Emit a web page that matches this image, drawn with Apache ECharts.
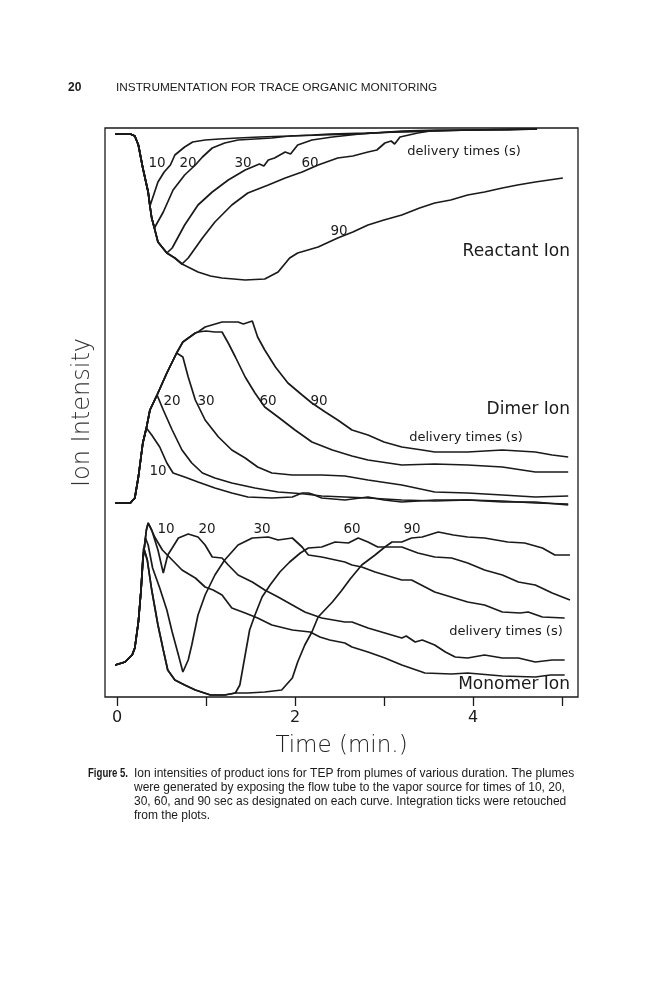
<!DOCTYPE html>
<html>
<head>
<meta charset="utf-8">
<script src="https://cdn.jsdelivr.net/npm/echarts@6.0.0/dist/echarts.min.js"></script>
<style>
  html, body { margin: 0; padding: 0; background: #fff; }
  #chart { width: 666px; height: 1000px; }
</style>
</head>
<body>
<div id="chart"></div>
<script>
// time in minutes, intensity in arbitrary units (each panel 0-190)
var xTicks = [0, 1, 2, 3, 4, 5];
var xTickLabels = [0, 2, 4];
var deliveryTimes = ["10", "20", "30", "60", "90"];

// ---- Reactant ion
var reactant10 = [[-0.02,184],[0.15,184],[0.20,182],[0.24,173],[0.29,150],[0.35,126],[0.37,112],[0.46,136],[0.53,146],[0.60,153],[0.65,163],[0.76,171],[0.85,176],[0.99,178],[1.15,179],[1.36,180],[1.6,181],[1.94,182],[2.2,183],[2.39,184],[2.8,185],[3.18,186],[3.6,187],[3.97,188],[4.4,188],[4.72,189]];
var reactant20 = [[-0.02,184],[0.15,184],[0.20,182],[0.24,173],[0.29,150],[0.35,126],[0.37,112],[0.39,100],[0.42,90],[0.52,106],[0.63,128],[0.76,143],[0.88,153],[0.96,161],[1.07,170],[1.21,175],[1.36,178],[1.55,179],[1.74,180],[1.94,182],[2.3,183],[2.7,184],[3.1,186],[3.5,187],[3.97,188],[4.72,189]];
var reactant30 = [[-0.02,184],[0.15,184],[0.20,182],[0.24,173],[0.29,150],[0.35,126],[0.37,112],[0.39,100],[0.42,90],[0.46,76],[0.56,65],[0.62,70],[0.76,93],[0.91,113],[1.07,126],[1.25,138],[1.44,148],[1.6,154],[1.65,152],[1.7,158],[1.77,160],[1.89,166],[1.95,164],[2.03,173],[2.19,178],[2.42,181],[2.73,184],[3.2,187],[3.6,188],[4.0,188],[4.5,189],[4.72,189]];
var reactant60 = [[-0.02,184],[0.15,184],[0.20,182],[0.24,173],[0.29,150],[0.35,126],[0.37,112],[0.39,100],[0.42,90],[0.46,76],[0.56,65],[0.65,60],[0.73,54],[0.80,60],[0.96,80],[1.10,96],[1.29,113],[1.47,125],[1.70,133],[1.89,140],[2.08,146],[2.26,153],[2.48,160],[2.65,162],[2.82,166],[2.92,168],[3.01,175],[3.08,177],[3.12,174],[3.18,181],[3.38,185],[3.52,187]];
var reactant90 = [[-0.02,184],[0.15,184],[0.20,182],[0.24,173],[0.29,150],[0.35,126],[0.37,112],[0.39,100],[0.42,90],[0.46,76],[0.56,65],[0.65,60],[0.73,54],[0.91,46],[1.05,42],[1.18,40],[1.44,38],[1.66,39],[1.81,46],[1.94,60],[2.03,65],[2.26,71],[2.48,80],[2.65,86],[2.82,93],[3.0,98],[3.20,103],[3.4,110],[3.57,115],[3.75,118],[3.94,123],[4.13,126],[4.33,130],[4.5,133],[4.70,136],[5.01,140]];

// ---- Dimer ion
var dimer10 = [[-0.02,5],[0.15,5],[0.20,10],[0.24,31],[0.29,65],[0.33,80],[0.39,73],[0.48,61],[0.56,45],[0.63,35],[0.76,31],[0.91,26],[1.10,20],[1.29,15],[1.47,11],[1.74,10],[1.97,11],[2.08,15],[2.15,15],[2.19,14],[2.30,10],[2.56,8],[2.82,11],[3.0,8],[3.20,6],[3.57,8],[3.94,8],[4.33,6],[4.70,6],[5.07,3]];
var dimer20 = [[-0.02,5],[0.15,5],[0.20,10],[0.24,31],[0.29,65],[0.33,80],[0.37,98],[0.45,113],[0.52,98],[0.62,78],[0.73,58],[0.84,45],[0.96,35],[1.10,30],[1.29,25],[1.55,20],[1.81,16],[1.97,15],[2.11,14],[2.30,12],[2.56,11],[2.82,10],[3.20,8],[3.57,7],[3.94,8],[4.33,7],[4.70,5],[5.07,4]];
var dimer30 = [[-0.02,5],[0.15,5],[0.20,10],[0.24,31],[0.29,65],[0.33,80],[0.37,98],[0.45,113],[0.56,135],[0.67,155],[0.74,151],[0.80,131],[0.88,108],[0.99,88],[1.14,71],[1.29,58],[1.44,50],[1.58,41],[1.74,35],[1.97,33],[2.30,33],[2.56,32],[2.82,28],[3.20,23],[3.57,16],[3.94,15],[4.33,13],[4.70,11],[5.07,12]];
var dimer60 = [[-0.02,5],[0.15,5],[0.20,10],[0.24,31],[0.29,65],[0.33,80],[0.37,98],[0.45,113],[0.56,135],[0.67,155],[0.74,166],[0.88,175],[0.91,176],[1.0,177],[1.1,176],[1.18,176],[1.25,165],[1.33,151],[1.44,131],[1.55,115],[1.66,101],[1.81,91],[2.0,78],[2.19,66],[2.42,58],[2.64,52],[2.82,48],[3.20,43],[3.57,44],[3.94,43],[4.33,41],[4.70,36],[5.07,36]];
var dimer90 = [[-0.02,5],[0.15,5],[0.20,10],[0.24,31],[0.29,65],[0.33,80],[0.37,98],[0.45,113],[0.56,135],[0.67,155],[0.74,166],[0.88,175],[0.91,176],[0.99,181],[1.18,186],[1.30,186],[1.36,186],[1.42,184],[1.52,187],[1.58,171],[1.66,158],[1.78,141],[1.92,125],[2.08,113],[2.19,105],[2.34,96],[2.48,88],[2.64,78],[2.82,73],[3.0,66],[3.20,61],[3.43,58],[3.57,56],[3.94,56],[4.33,58],[4.70,56],[4.89,53],[5.07,51]];

// ---- Monomer ion
var monomer10 = [[-0.02,32],[0.09,35],[0.17,42],[0.20,49],[0.24,75],[0.27,107],[0.29,137],[0.33,167],[0.35,174],[0.37,172],[0.43,159],[0.51,147],[0.62,137],[0.73,127],[0.88,119],[0.99,110],[1.08,107],[1.18,102],[1.29,89],[1.44,84],[1.58,79],[1.74,72],[1.97,67],[2.17,65],[2.28,60],[2.39,57],[2.56,54],[2.64,50],[2.82,45],[3.01,39],[3.20,32],[3.46,24],[3.76,23],[3.94,24],[4.33,21],[4.70,20],[4.87,22],[5.03,22]];
var monomer20 = [[-0.02,32],[0.09,35],[0.17,42],[0.20,49],[0.24,75],[0.27,107],[0.29,137],[0.33,167],[0.35,174],[0.39,167],[0.46,147],[0.52,124],[0.57,142],[0.62,149],[0.69,159],[0.80,163],[0.91,160],[0.99,152],[1.07,140],[1.18,139],[1.25,132],[1.36,122],[1.52,115],[1.66,107],[1.81,100],[1.97,92],[2.11,85],[2.30,79],[2.56,75],[2.64,75],[2.82,69],[3.01,64],[3.20,59],[3.25,61],[3.35,55],[3.43,57],[3.57,52],[3.69,45],[3.80,40],[3.94,39],[4.13,42],[4.33,39],[4.51,39],[4.70,35],[4.89,37],[5.03,37]];
var monomer30 = [[-0.02,32],[0.09,35],[0.17,42],[0.20,49],[0.24,75],[0.27,107],[0.29,137],[0.32,159],[0.35,152],[0.40,129],[0.48,109],[0.56,87],[0.62,65],[0.69,42],[0.74,25],[0.80,37],[0.84,52],[0.91,82],[0.99,102],[1.10,122],[1.21,137],[1.36,152],[1.52,159],[1.70,160],[1.81,157],[1.97,159],[2.08,150],[2.15,142],[2.30,140],[2.56,135],[2.64,132],[2.75,130],[2.90,125],[3.20,117],[3.31,117],[3.57,105],[3.94,95],[4.13,92],[4.33,85],[4.53,84],[4.62,85],[4.78,80],[5.03,79]];
var monomer60 = [[-0.02,32],[0.09,35],[0.17,42],[0.20,49],[0.24,75],[0.27,107],[0.30,149],[0.34,137],[0.39,107],[0.46,72],[0.52,47],[0.57,27],[0.65,17],[0.76,12],[0.88,7],[1.05,2],[1.21,2],[1.33,4],[1.38,12],[1.44,42],[1.49,67],[1.55,82],[1.63,100],[1.72,112],[1.83,125],[1.94,135],[2.06,144],[2.15,149],[2.30,150],[2.45,155],[2.60,154],[2.71,159],[2.82,155],[2.93,150],[3.20,150],[3.38,144],[3.57,140],[3.76,139],[3.94,134],[4.13,127],[4.33,122],[4.51,115],[4.70,112],[4.89,104],[5.09,97]];
var monomer90 = [[-0.02,32],[0.09,35],[0.17,42],[0.20,49],[0.24,75],[0.27,107],[0.30,149],[0.34,137],[0.39,107],[0.46,72],[0.52,47],[0.57,27],[0.65,17],[0.76,12],[0.88,7],[1.05,2],[1.21,2],[1.33,4],[1.47,4],[1.66,5],[1.85,7],[1.97,19],[2.03,35],[2.11,52],[2.19,65],[2.26,80],[2.42,95],[2.52,106],[2.62,118],[2.75,132],[2.90,142],[3.01,150],[3.09,155],[3.20,155],[3.31,159],[3.43,160],[3.61,165],[3.78,162],[3.94,160],[4.13,159],[4.39,155],[4.58,154],[4.78,149],[4.92,142],[5.09,142]];

var panels = [
  { name: "Reactant Ion", curves: [reactant10, reactant20, reactant30, reactant60, reactant90] },
  { name: "Dimer Ion", curves: [dimer10, dimer20, dimer30, dimer60, dimer90] },
  { name: "Monomer Ion", curves: [monomer10, monomer20, monomer30, monomer60, monomer90] }
];

// text annotations (pixel positions on the page)
var curveLabels = [
  [deliveryTimes[0], 157, 163], [deliveryTimes[1], 188, 163], [deliveryTimes[2], 243, 163], [deliveryTimes[3], 310, 163], [deliveryTimes[4], 339, 231],
  [deliveryTimes[1], 172, 401], [deliveryTimes[2], 206, 401], [deliveryTimes[3], 268, 401], [deliveryTimes[4], 319, 401], [deliveryTimes[0], 158, 471],
  [deliveryTimes[0], 166, 529], [deliveryTimes[1], 207, 529], [deliveryTimes[2], 262, 529], [deliveryTimes[3], 352, 529], [deliveryTimes[4], 412, 529]
];
var panelNames = [[panels[0].name, 570, 252], [panels[1].name, 570, 410], [panels[2].name, 570, 685]];
var legendNotes = [["delivery times (s)", 464, 152], ["delivery times (s)", 466, 438], ["delivery times (s)", 506, 632]];
var captionLines = [
  "Ion intensities of product ions for TEP from plumes of various duration. The plumes",
  "were generated by exposing the flow tube to the vapor source for times of 10, 20,",
  "30, 60, and 90 sec as designated on each curve. Integration ticks were retouched",
  "from the plots."
];

var chart = echarts.init(document.getElementById("chart"), null, { renderer: "canvas" });

var FONT = "DejaVu Sans";
var INK = "#1a1a1a";
var xMin = -0.135, xMax = 5.18;
var panelTops = [128, 318, 507];

var grids = [{ left: 105, top: 128, width: 473, height: 569, show: true, borderColor: INK, borderWidth: 1.3 }];
var xAxes = [{
  type: "value", gridIndex: 0, min: xMin, max: xMax, position: "bottom", offset: 2,
  axisLine: { show: false },
  axisTick: { show: true, length: 9, customValues: xTicks, lineStyle: { color: INK, width: 1.3 } },
  axisLabel: { customValues: xTickLabels, fontSize: 16, color: INK, fontFamily: FONT, margin: 11 },
  splitLine: { show: false },
  name: "Time (min.)", nameLocation: "middle", nameGap: 36,
  nameTextStyle: { fontSize: 23, color: "#222", fontFamily: FONT, fontWeight: 300 }
}];
var yAxes = [{
  type: "value", gridIndex: 0, min: 0, max: 1,
  axisLine: { show: false }, axisTick: { show: false }, axisLabel: { show: false }, splitLine: { show: false },
  name: "Ion Intensity", nameLocation: "middle", nameGap: 10, nameRotate: 90,
  nameTextStyle: { fontSize: 24, color: "#333", fontFamily: FONT, fontWeight: 200 }
}];
var series = [];

panels.forEach(function (p, i) {
  grids.push({ left: 105, top: panelTops[i], width: 473, height: 190 });
  xAxes.push({ type: "value", gridIndex: i + 1, min: xMin, max: xMax, show: false });
  yAxes.push({ type: "value", gridIndex: i + 1, min: 0, max: 190, show: false });
  p.curves.forEach(function (c, j) {
    series.push({
      name: p.name + " " + deliveryTimes[j],
      type: "line",
      xAxisIndex: i + 1,
      yAxisIndex: i + 1,
      data: c,
      showSymbol: false,
      symbol: "none",
      lineStyle: { color: INK, width: 1.7 },
      silent: true
    });
  });
});

function txt(t, x, y, size, align, extra) {
  var s = { text: t, fontSize: size, fontFamily: FONT, fill: INK, align: align || "center", verticalAlign: "middle" };
  var el = { type: "text", x: x, y: y, style: s, z: 10 };
  if (extra) for (var k in extra) {
    if (k === "scaleX") el.scaleX = extra[k]; else s[k] = extra[k];
  }
  return el;
}

var graphics = [];
curveLabels.forEach(function (l) { graphics.push(txt(l[0], l[1], l[2], 13.5)); });
panelNames.forEach(function (l) { graphics.push(txt(l[0], l[1], l[2], 17, "right")); });
legendNotes.forEach(function (l) { graphics.push(txt(l[0], l[1], l[2], 13)); });

// page header
graphics.push(txt("20", 68, 88, 12, "left", { fontFamily: "Liberation Sans", fontWeight: "bold" }));
graphics.push(txt("INSTRUMENTATION FOR TRACE ORGANIC MONITORING", 116, 88, 11.8, "left", { fontFamily: "Liberation Sans" }));
// caption
graphics.push(txt("Figure 5.", 88, 774, 12, "left", { fontFamily: "Liberation Sans", fontWeight: "bold", scaleX: 0.8 }));
captionLines.forEach(function (line, i) {
  graphics.push(txt(line, 134, 774 + i * 14, 12, "left", { fontFamily: "Liberation Sans" }));
});

chart.setOption({
  backgroundColor: "#ffffff",
  animation: false,
  grid: grids,
  xAxis: xAxes,
  yAxis: yAxes,
  series: series,
  graphic: graphics
});
</script>
</body>
</html>
